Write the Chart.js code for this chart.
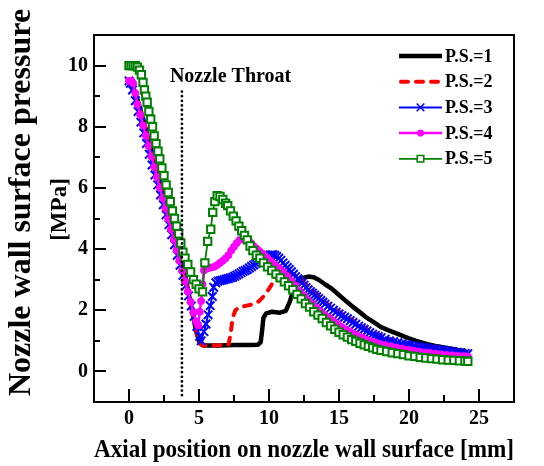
<!DOCTYPE html>
<html>
<head>
<meta charset="utf-8">
<script src="https://cdn.jsdelivr.net/npm/chart.js@4.4.1/dist/chart.umd.min.js"></script>
<style>
html,body{margin:0;padding:0;background:#fff;}
#wrap{width:544px;height:466px;position:relative;}
</style>
</head>
<body>
<div id="wrap"><canvas id="c"></canvas></div>
<script>
// ---------- data ----------
const seriesNames = ['P.S.=1', 'P.S.=2', 'P.S.=3', 'P.S.=4', 'P.S.=5'];

const ps1X = [0,0.3,0.6,1.0,1.5,2.0,2.5,3.0,3.5,4.0,4.5,4.8,5.0,5.15,5.3,5.6,6.5,7.5,8.5,9.2,9.4,9.5,9.6,9.8,10.2,10.8,11.2,11.5,11.7,12.0,12.4,12.8,13.2,13.6,14.0,14.5,15.0,15.5,16.0,16.5,17.0,17.5,18.0,18.5,19.0,19.5,20.0,20.5,21.0,21.5,22.0,22.5,23.0,23.5,24.1];
const ps1Y = [9.45,9.3,8.9,8.25,7.4,6.55,5.7,4.85,4.0,3.15,2.0,1.3,1.0,0.88,0.85,0.85,0.85,0.86,0.86,0.87,0.95,1.3,1.75,1.9,1.95,1.92,1.98,2.3,2.6,2.9,3.06,3.1,3.08,2.98,2.85,2.7,2.5,2.3,2.11,1.93,1.75,1.6,1.45,1.35,1.26,1.17,1.08,1.0,0.93,0.87,0.82,0.78,0.74,0.7,0.66];

const ps2X = [0,0.5,1.0,1.5,2.0,2.5,3.0,3.5,4.0,4.5,4.8,5.0,5.15,5.3,6.0,6.6,7.1,7.25,7.4,7.6,7.9,8.4,8.9,9.3,9.7,10.0,10.3,10.6,11.0,11.4,11.8,12.2,12.6,13.0,13.5,14.0,14.5,15.0,15.5,16.0,16.5,17.0,17.5,18.0,18.5,19.0,19.5,20.0,20.5,21.0,21.5,22.0,22.5,23.0,23.5,24.1];
const ps2Y = [9.45,8.9,8.25,7.4,6.55,5.7,4.85,4.0,3.15,2.0,1.3,1.0,0.88,0.85,0.85,0.86,0.87,1.2,1.75,2.0,2.1,2.15,2.2,2.3,2.5,2.7,2.92,3.1,3.2,3.24,3.16,3.02,2.86,2.7,2.5,2.27,2.1,1.95,1.8,1.66,1.52,1.38,1.27,1.16,1.07,1.0,0.95,0.9,0.86,0.82,0.78,0.75,0.72,0.69,0.66,0.62];

const ps3X = [0,0.1,0.25,0.45,0.65,0.85,1.05,1.25,1.45,1.65,1.85,2.05,2.25,2.45,2.65,2.85,3.05,3.25,3.45,3.65,3.85,4.05,4.25,4.45,4.65,4.85,5.05,5.15,5.35,5.5,5.65,5.8,5.95,6.05,6.2,6.35,6.5,6.65,6.8,6.95,7.1,7.25,7.4,7.55,7.7,7.85,8.0,8.15,8.3,8.45,8.6,8.75,8.9,9.05,9.2,9.35,9.5,9.65,9.8,9.95,10.1,10.25,10.4,10.55,10.7,10.85,11.0,11.15,11.3,11.45,11.6,11.75,11.9,12.05,12.2,12.35,12.5,12.65,12.8,12.95,13.1,13.25,13.4,13.55,13.7,13.85,14.0,14.2,14.4,14.6,14.8,15.0,15.2,15.4,15.6,15.8,16.0,16.2,16.4,16.6,16.8,17.0,17.2,17.4,17.6,17.8,18.0,18.3,18.6,18.9,19.2,19.5,19.8,20.1,20.4,20.7,21.0,21.3,21.6,21.9,22.2,22.5,22.8,23.1,23.4,23.7,24.0,24.2];
const ps3Y = [9.5,9.42,9.2,8.85,8.5,8.15,7.8,7.45,7.1,6.75,6.42,6.1,5.77,5.45,5.12,4.8,4.47,4.14,3.8,3.47,3.14,2.8,2.47,2.14,1.8,1.47,1.15,1.0,1.3,1.55,1.85,2.15,2.45,2.75,2.9,2.95,2.97,2.98,3.0,3.02,3.04,3.06,3.08,3.11,3.15,3.19,3.23,3.27,3.3,3.33,3.38,3.43,3.48,3.53,3.58,3.63,3.68,3.72,3.76,3.79,3.81,3.82,3.8,3.76,3.7,3.63,3.55,3.47,3.4,3.33,3.26,3.18,3.1,3.03,2.96,2.89,2.82,2.74,2.67,2.61,2.56,2.5,2.44,2.38,2.32,2.26,2.2,2.13,2.07,2.0,1.94,1.88,1.82,1.77,1.72,1.66,1.6,1.54,1.48,1.43,1.38,1.32,1.27,1.22,1.18,1.14,1.1,1.05,1.0,0.97,0.94,0.91,0.88,0.86,0.84,0.81,0.79,0.77,0.75,0.73,0.71,0.69,0.67,0.65,0.63,0.61,0.59,0.58];

const ps4X = [0,0.15,0.3,0.45,0.6,0.8,1.0,1.2,1.4,1.6,1.8,2.0,2.2,2.4,2.6,2.8,3.0,3.2,3.4,3.6,3.8,4.0,4.2,4.4,4.6,4.8,4.95,5.05,5.15,5.25,5.35,5.5,5.7,5.9,6.1,6.3,6.5,6.7,6.9,7.1,7.3,7.5,7.7,7.9,8.1,8.3,8.5,8.7,8.9,9.1,9.3,9.5,9.7,9.9,10.1,10.4,10.7,11.0,11.3,11.6,11.9,12.2,12.5,12.8,13.1,13.4,13.7,14.0,14.3,14.6,14.9,15.2,15.5,15.8,16.1,16.4,16.7,17.0,17.3,17.6,17.9,18.3,18.7,19.1,19.5,19.9,20.3,20.7,21.1,21.5,21.9,22.3,22.7,23.1,23.5,23.9,24.2];
const ps4Y = [9.5,9.5,9.42,9.1,8.73,8.39,8.05,7.71,7.37,7.03,6.69,6.35,6.01,5.67,5.33,4.99,4.65,4.31,3.97,3.63,3.29,2.95,2.61,2.27,1.93,1.62,1.5,1.95,2.3,2.85,3.3,3.35,3.38,3.4,3.42,3.48,3.55,3.62,3.7,3.8,3.95,4.08,4.2,4.3,4.33,4.33,4.28,4.2,4.1,4.02,3.94,3.86,3.78,3.7,3.62,3.5,3.38,3.26,3.1,2.95,2.8,2.62,2.47,2.32,2.2,2.07,1.95,1.84,1.75,1.65,1.55,1.45,1.37,1.3,1.22,1.15,1.09,1.03,0.98,0.94,0.9,0.86,0.82,0.78,0.75,0.71,0.68,0.65,0.62,0.6,0.58,0.56,0.54,0.53,0.51,0.5,0.49];

const ps5X = [0,0.15,0.3,0.45,0.6,0.75,0.88,1.0,1.1,1.2,1.3,1.42,1.55,1.68,1.8,1.93,2.07,2.2,2.35,2.5,2.65,2.8,2.95,3.1,3.25,3.4,3.55,3.7,3.85,4.0,4.2,4.4,4.6,4.8,5.0,5.25,5.42,5.62,5.84,5.98,6.13,6.3,6.5,6.7,6.9,7.05,7.25,7.45,7.65,7.85,8.05,8.25,8.45,8.65,8.85,9.1,9.35,9.6,9.9,10.2,10.5,10.8,11.1,11.4,11.7,12.0,12.3,12.6,12.9,13.2,13.5,13.8,14.1,14.4,14.7,15.0,15.3,15.6,15.9,16.2,16.5,16.8,17.1,17.4,17.7,18.0,18.4,18.8,19.2,19.6,20.0,20.4,20.8,21.2,21.6,22.0,22.4,22.8,23.2,23.6,24.0,24.2];
const ps5Y = [10.0,10.0,10.0,10.0,9.95,9.85,9.7,9.45,9.2,9.0,8.8,8.5,8.25,8.0,7.7,7.45,7.2,6.95,6.65,6.4,6.1,5.85,5.55,5.25,5.0,4.75,4.5,4.2,3.9,3.7,3.5,3.25,3.0,2.85,2.7,2.6,3.55,4.25,4.65,5.2,5.55,5.75,5.72,5.62,5.5,5.42,5.25,5.08,4.92,4.75,4.6,4.45,4.3,4.1,3.95,3.8,3.7,3.55,3.42,3.3,3.18,3.06,2.93,2.8,2.67,2.52,2.37,2.22,2.1,1.95,1.84,1.73,1.6,1.49,1.38,1.28,1.2,1.12,1.04,0.98,0.92,0.87,0.82,0.77,0.72,0.69,0.65,0.61,0.58,0.55,0.51,0.49,0.46,0.44,0.42,0.4,0.38,0.37,0.36,0.35,0.34,0.33];

const throatX = 3.78;
const throatYRange = [9.15, -0.9];

const xTickValues = [0, 5, 10, 15, 20, 25];
const yTickValues = [0, 2, 4, 6, 8, 10];

const xTitle = 'Axial position on nozzle wall surface [mm]';
const yTitleMain = 'Nozzle wall surface pressure';
const yTitleUnit = '[MPa]';
const throatLabel = 'Nozzle Throat';

// ---------- helpers ----------
const SERIF = "'Liberation Serif', 'Times New Roman', serif";
function pts(xs, ys) { return xs.map((v, i) => ({x: v, y: ys[i]})); }

function drawMarker(ctx, style, r, cx, cy) {
  ctx.beginPath();
  if (style === 'crossRot') {
    const o = r * Math.SQRT1_2;
    ctx.moveTo(cx - o, cy - o); ctx.lineTo(cx + o, cy + o);
    ctx.moveTo(cx - o, cy + o); ctx.lineTo(cx + o, cy - o);
    ctx.stroke();
  } else if (style === 'circle') {
    ctx.arc(cx, cy, r, 0, Math.PI * 2);
    ctx.fill(); ctx.stroke();
  } else if (style === 'rect') {
    const s = r * Math.SQRT1_2;
    ctx.rect(cx - s, cy - s, 2 * s, 2 * s);
    ctx.fill(); ctx.stroke();
  }
}

const decorPlugin = {
  id: 'decor',
  afterDatasetsDraw(chart) {
    const {ctx, chartArea: a, scales} = chart;
    const xs = scales.x, ys = scales.y;
    ctx.save();
    ctx.setLineDash([]);
    ctx.strokeStyle = '#000';
    ctx.lineWidth = 2;
    // frame
    ctx.strokeRect(a.left, a.top, a.right - a.left, a.bottom - a.top);
    // inward ticks
    ctx.beginPath();
    const xHalf = (xTickValues[1] - xTickValues[0]) / 2;
    for (let v = xs.min; v <= xs.max + 1e-9; v += xHalf) {
      const px = Math.round(xs.getPixelForValue(v));
      if (px <= a.left + 2 || px >= a.right - 2) continue;
      const major = xTickValues.some(t => Math.abs(t - v) < 1e-6);
      const len = major ? 13 : 7;
      ctx.moveTo(px, a.bottom); ctx.lineTo(px, a.bottom - len);
    }
    const yHalf = (yTickValues[1] - yTickValues[0]) / 2;
    for (let v = ys.min; v <= ys.max + 1e-9; v += yHalf) {
      const py = Math.round(ys.getPixelForValue(v));
      if (py <= a.top + 2 || py >= a.bottom - 2) continue;
      const major = yTickValues.some(t => Math.abs(t - v) < 1e-6);
      const len = major ? 12 : 6;
      ctx.moveTo(a.left, py); ctx.lineTo(a.left + len, py);
    }
    ctx.stroke();

    // legend
    const legendSets = chart.data.datasets.filter(d => seriesNames.includes(d.label));
    const x0 = a.right - 115, x1 = a.right - 72;
    legendSets.forEach((d, i) => {
      const cy = a.top + 21 + i * 25.7;
      ctx.save();
      ctx.strokeStyle = d.borderColor;
      ctx.lineWidth = d.borderWidth;
      ctx.lineCap = d.borderCapStyle || 'butt';
      ctx.setLineDash(d.borderDash || []);
      ctx.beginPath();
      ctx.moveTo(x0 + (d.borderDash ? 2 : 0), cy); ctx.lineTo(x1, cy);
      ctx.stroke();
      ctx.setLineDash([]);
      if (d.pointRadius > 0) {
        ctx.fillStyle = d.pointBackgroundColor;
        ctx.strokeStyle = d.pointBorderColor;
        ctx.lineWidth = Math.min(d.pointBorderWidth, 1.5);
        drawMarker(ctx, d.pointStyle, d.pointRadius * 0.9, (x0 + x1) / 2, cy);
      }
      ctx.fillStyle = '#000';
      ctx.font = 'bold 18px ' + SERIF;
      ctx.textAlign = 'left';
      ctx.textBaseline = 'middle';
      ctx.fillText(d.label, x1 + 3, cy + 1);
      ctx.restore();
    });

    // throat label
    ctx.fillStyle = '#000';
    ctx.font = 'bold 20px ' + SERIF;
    ctx.textAlign = 'left';
    ctx.textBaseline = 'alphabetic';
    ctx.fillText(throatLabel, xs.getPixelForValue(throatX) - 12, a.top + 47);

    // y axis title (two lines, two sizes)
    const midY = (a.top + a.bottom) / 2;
    ctx.save();
    ctx.translate(22, midY - 16);
    ctx.rotate(-Math.PI / 2);
    ctx.font = 'bold 32px ' + SERIF;
    ctx.textAlign = 'center';
    ctx.textBaseline = 'middle';
    ctx.fillText(yTitleMain, 0, 0);
    ctx.restore();
    ctx.save();
    ctx.translate(60, midY - 9);
    ctx.rotate(-Math.PI / 2);
    ctx.font = 'bold 23px ' + SERIF;
    ctx.textAlign = 'center';
    ctx.textBaseline = 'middle';
    ctx.fillText(yTitleUnit, 0, 0);
    ctx.restore();

    ctx.restore();
  }
};

const datasets = [
  {label: seriesNames[0], data: pts(ps1X, ps1Y), showLine: true, borderColor: '#000000', borderWidth: 4.5,
   pointRadius: 0, borderJoinStyle: 'round', order: 5},
  {label: seriesNames[1], data: pts(ps2X, ps2Y), showLine: true, borderColor: '#ff0000', borderWidth: 4,
   borderDash: [7, 8], borderCapStyle: 'round', pointRadius: 0, order: 4},
  {label: seriesNames[2], data: pts(ps3X, ps3Y), showLine: true, borderColor: '#0000ff', borderWidth: 2,
   pointStyle: 'crossRot', pointRadius: 6, pointBorderWidth: 2, pointBorderColor: '#0000ff',
   pointBackgroundColor: '#0000ff', order: 3},
  {label: seriesNames[3], data: pts(ps4X, ps4Y), showLine: true, borderColor: '#ff00ff', borderWidth: 2.5,
   pointStyle: 'circle', pointRadius: 3.5, pointBorderWidth: 1, pointBorderColor: '#ff00ff',
   pointBackgroundColor: '#ff00ff', order: 2},
  {label: seriesNames[4], data: pts(ps5X, ps5Y), showLine: true, borderColor: '#008000', borderWidth: 1.8,
   pointStyle: 'rect', pointRadius: 5.2, pointBorderWidth: 2, pointBorderColor: '#008000',
   pointBackgroundColor: '#ffffff', order: 1},
  {label: 'throat', data: throatYRange.map(v => ({x: throatX, y: v})), showLine: true,
   borderColor: '#000000', borderWidth: 2.8, borderDash: [0, 4.6], borderCapStyle: 'round',
   pointRadius: 0, order: 0}
];

new Chart(document.getElementById('c'), {
  type: 'scatter',
  data: {datasets},
  options: {
    responsive: true,
    maintainAspectRatio: false,
    devicePixelRatio: 1,
    animation: false,
    events: [],
    layout: {padding: {left: 0, top: 35, right: 30, bottom: 0}},
    plugins: {legend: {display: false}, tooltip: {enabled: false}},
    scales: {
      x: {
        type: 'linear', min: -2.5, max: 27.5,
        afterBuildTicks: s => { s.ticks = xTickValues.map(v => ({value: v})); },
        afterFit: s => { s.height = 64; },
        grid: {display: false, drawTicks: false},
        border: {display: false},
        ticks: {color: '#000', padding: 5, font: {family: SERIF, size: 20, weight: 'bold'}},
        title: {display: true, text: xTitle, color: '#000', padding: {top: 0, bottom: 0},
                font: {family: SERIF, size: 26, weight: 'bold'}}
      },
      y: {
        type: 'linear', min: -1, max: 11,
        afterBuildTicks: s => { s.ticks = yTickValues.map(v => ({value: v})); },
        afterFit: s => { s.width = 94; },
        grid: {display: false, drawTicks: false},
        border: {display: false},
        ticks: {color: '#000', padding: 6, font: {family: SERIF, size: 20, weight: 'bold'}}
      }
    }
  },
  plugins: [decorPlugin]
});
</script>
</body>
</html>
